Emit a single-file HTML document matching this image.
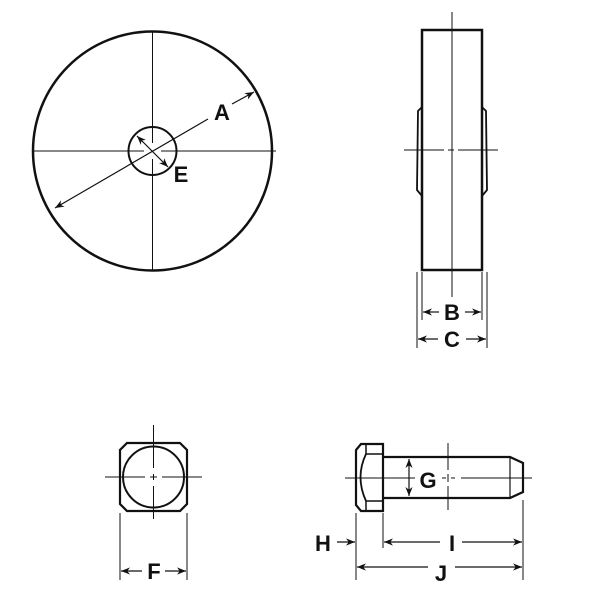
<!DOCTYPE html>
<html><head><meta charset="utf-8"><style>
html,body{margin:0;padding:0;background:#fff;}
svg{display:block;}
text{font-family:"Liberation Sans",sans-serif;font-weight:bold;font-size:22px;fill:#111;text-anchor:middle;}
</style></head><body>
<svg width="600" height="603" viewBox="0 0 600 603" xmlns="http://www.w3.org/2000/svg">
<defs>
<marker id="ar" viewBox="0 0 10 10" refX="10" refY="5" markerWidth="9" markerHeight="9" orient="auto-start-reverse" markerUnits="userSpaceOnUse">
<path d="M0,1 L10,5 L0,9 L3,5 Z" fill="#111"/></marker>
</defs>
<g stroke="#111" fill="none">
<!-- Wheel front -->
<circle cx="152.5" cy="151" r="119.5" stroke-width="2.5"/>
<circle cx="152.5" cy="151" r="24" stroke-width="2"/>
<line x1="152.5" y1="31" x2="152.5" y2="143" stroke-width="1"/>
<line x1="152.5" y1="159" x2="152.5" y2="271" stroke-width="1"/>
<line x1="33" y1="151" x2="144" y2="151" stroke-width="1"/>
<line x1="161" y1="151" x2="276" y2="151" stroke-width="1"/>
<line x1="208" y1="119" x2="55" y2="208" stroke-width="1.2" marker-end="url(#ar)"/>
<line x1="232" y1="104" x2="254" y2="92" stroke-width="1.2" marker-end="url(#ar)"/>
<line x1="137" y1="136" x2="168" y2="167" stroke-width="1.2" marker-start="url(#ar)" marker-end="url(#ar)"/>
<!-- Side view -->
<rect x="422" y="30" width="60" height="240" stroke-width="2.5"/>
<path d="M422,107 L418,111 L417,190 L422,196" stroke-width="1.8"/>
<path d="M482,107 L486,111 L487,190 L482,196" stroke-width="1.8"/>
<line x1="452" y1="12" x2="452" y2="297" stroke-width="1"/>
<line x1="404" y1="150" x2="500" y2="150" stroke-width="1" stroke-dasharray="40,4,6,4"/>
<line x1="422" y1="272" x2="422" y2="320" stroke-width="1"/>
<line x1="482" y1="272" x2="482" y2="320" stroke-width="1"/>
<line x1="417" y1="272" x2="417" y2="348" stroke-width="1"/>
<line x1="487" y1="272" x2="487" y2="348" stroke-width="1"/>
<line x1="439" y1="312" x2="423" y2="312" stroke-width="1.2" marker-end="url(#ar)"/>
<line x1="465" y1="312" x2="481" y2="312" stroke-width="1.2" marker-end="url(#ar)"/>
<line x1="438" y1="339" x2="418" y2="339" stroke-width="1.2" marker-end="url(#ar)"/>
<line x1="466" y1="339" x2="486" y2="339" stroke-width="1.2" marker-end="url(#ar)"/>
<!-- Nut -->
<path d="M127,443 L180,443 L187,450 L187,504 L180,511 L127,511 L120,504 L120,450 Z" stroke-width="2.2"/>
<circle cx="153.5" cy="477" r="30.5" stroke-width="2"/>
<line x1="153.5" y1="425" x2="153.5" y2="468" stroke-width="1"/>
<line x1="153.5" y1="474" x2="153.5" y2="480" stroke-width="1"/>
<line x1="153.5" y1="486" x2="153.5" y2="519" stroke-width="1"/>
<line x1="105" y1="477" x2="145" y2="477" stroke-width="1"/>
<line x1="150" y1="477" x2="157" y2="477" stroke-width="1"/>
<line x1="162" y1="477" x2="202" y2="477" stroke-width="1"/>
<line x1="120" y1="513" x2="120" y2="580" stroke-width="1"/>
<line x1="187" y1="513" x2="187" y2="580" stroke-width="1"/>
<line x1="142" y1="571" x2="121" y2="571" stroke-width="1.2" marker-end="url(#ar)"/>
<line x1="165" y1="571" x2="186" y2="571" stroke-width="1.2" marker-end="url(#ar)"/>
<!-- Bolt -->
<path d="M361,444 L383,444 L383,511 L361,511 L356,505 L356,450 Z" stroke-width="2.2"/>
<line x1="366" y1="444" x2="366" y2="454" stroke-width="1.5"/>
<line x1="366" y1="454" x2="383" y2="454" stroke-width="1.5"/>
<line x1="366" y1="501" x2="383" y2="501" stroke-width="1.5"/>
<line x1="366" y1="501" x2="366" y2="511" stroke-width="1.5"/>
<path d="M366,454 Q355,477 366,501" stroke-width="1.8"/>
<path d="M383,457 L510,457 L523,463 L523,492 L510,498 L383,498" stroke-width="2.2"/>
<line x1="510" y1="457" x2="510" y2="498" stroke-width="1.2"/>
<line x1="345" y1="478" x2="415" y2="478" stroke-width="1"/>
<line x1="442" y1="478" x2="446" y2="478" stroke-width="1"/>
<line x1="451" y1="478" x2="455" y2="478" stroke-width="1"/>
<line x1="461" y1="478" x2="532" y2="478" stroke-width="1"/>
<line x1="448" y1="443" x2="448" y2="470" stroke-width="1"/>
<line x1="448" y1="474" x2="448" y2="482" stroke-width="1"/>
<line x1="448" y1="486" x2="448" y2="510" stroke-width="1"/>
<line x1="409" y1="459" x2="409" y2="496" stroke-width="1.2" marker-start="url(#ar)" marker-end="url(#ar)"/>
<line x1="356" y1="513" x2="356" y2="580" stroke-width="1"/>
<line x1="383" y1="513" x2="383" y2="548" stroke-width="1"/>
<line x1="523" y1="500" x2="523" y2="580" stroke-width="1"/>
<line x1="337" y1="542" x2="355" y2="542" stroke-width="1.2" marker-end="url(#ar)"/>
<line x1="440" y1="542" x2="384" y2="542" stroke-width="1.2" marker-end="url(#ar)"/>
<line x1="462" y1="542" x2="522" y2="542" stroke-width="1.2" marker-end="url(#ar)"/>
<line x1="428" y1="567" x2="357" y2="567" stroke-width="1.2" marker-end="url(#ar)"/>
<line x1="455" y1="567" x2="522" y2="567" stroke-width="1.2" marker-end="url(#ar)"/>
</g>
<text x="222" y="120">A</text>
<text x="181" y="182">E</text>
<text x="452" y="320">B</text>
<text x="452" y="347">C</text>
<text x="154" y="579">F</text>
<text x="428" y="488">G</text>
<text x="323" y="551">H</text>
<text x="452" y="551">I</text>
<text x="441" y="581">J</text>
</svg>
</body></html>
